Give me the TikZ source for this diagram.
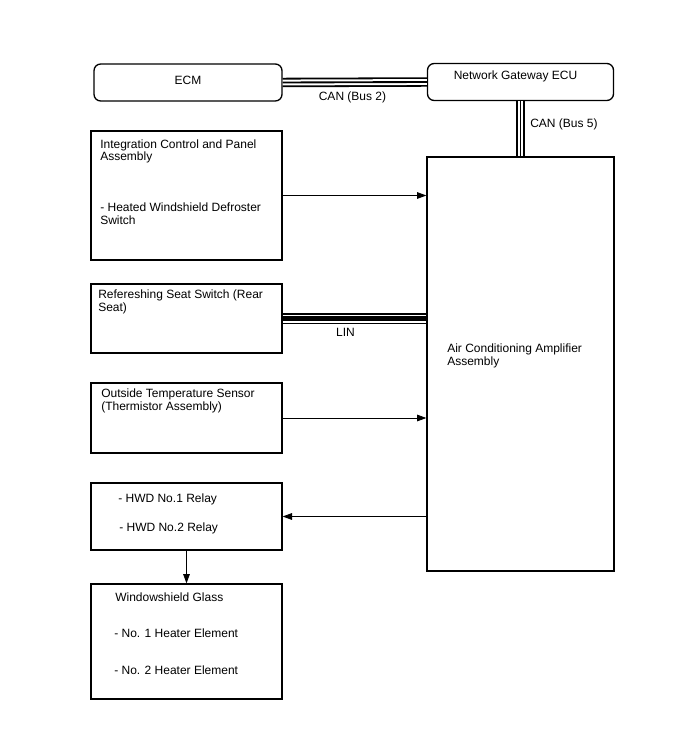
\documentclass[tikz,border=0pt]{standalone}
\usepackage{fontspec}
\setmainfont{Liberation Sans}
\usetikzlibrary{arrows.meta}

\begin{document}
\begin{tikzpicture}
[
    x=0.75pt, y=-0.75pt,
    every node/.style={font=\fontsize{9}{9.4}\selectfont},
    box/.style={draw, line width=1pt, minimum width=143.25pt, inner sep=0pt},
    ecu/.style={draw, line width=1pt, rounded corners=5pt, minimum height=27.75pt, inner sep=0pt},
    txt/.style={anchor=base west, align=left, inner sep=0pt},
    sig/.style={line width=0.6pt, -{Triangle[length=7pt,width=5pt]}},
    can/.style={line width=1.4pt, preaction={draw=black, line width=7.1pt}, preaction={draw=white, line width=4.4pt}},
    lin/.style={line width=3.45pt, preaction={draw=black, line width=7.9pt}, preaction={draw=white, line width=6pt}}
]
    \useasboundingbox (0,0) rectangle (688,755);

    \node [ecu, minimum width=141pt] (ecm) at (188,82.5) {};
    \node [ecu, minimum width=139.5pt] (gw) at (520.5,82) {};
    \node [box, minimum width=140.25pt, minimum height=310.5pt] (ac) at (520.5,364) {};
    \node [box, minimum height=96.75pt] (icp) at (186.5,195.5) {};
    \node [box, minimum height=51.75pt] (rss) at (186.5,318.5) {};
    \node [box, minimum height=52.5pt] (ots) at (186.5,418) {};
    \node [box, minimum height=50.25pt] (hwd) at (186.5,516.5) {};
    \node [box, minimum height=86.25pt] (wsg) at (186.5,641.5) {};

    % multi-line texts sit on the baseline of their last line
    \node [anchor=base, inner sep=0pt] (ecmtxt) at (188,85) {ECM};
    \node [anchor=base, inner sep=0pt] (gwtxt) at (515.5,80) {Network Gateway ECU};
    \node [anchor=base, inner sep=0pt] (can2) at (352.5,101) {CAN (Bus 2)};
    \node [txt] (can5) at (530,128) {CAN (Bus 5)};
    \node [txt] (actxt) at (447,365) {Air Conditioning Amplifier\\Assembly};
    \node [txt] (icptxt) at (100,161) {Integration Control and Panel\\Assembly};
    \node [txt] (hwsw) at (100,224.5) {- Heated Windshield Defroster\\Switch};
    \node [txt] (rsstxt) at (98,311.5) {Refereshing Seat Switch (Rear\\Seat)};
    \node [anchor=base, inner sep=0pt] (lin) at (345.5,336.5) {LIN};
    \node [txt] (otstxt) at (101,410.5) {Outside Temperature Sensor\\(Thermistor Assembly)};
    \node [txt] (relay1) at (118,502) {- HWD No.1 Relay};
    \node [txt] (relay2) at (119,531) {- HWD No.2 Relay};
    \node [txt] (wsgtxt) at (115,601) {Windowshield Glass};
    \node [txt] (heat1) at (114,637.5) {- No. 1 Heater Element};
    \node [txt] (heat2) at (114,674) {- No. 2 Heater Element};

    \draw [can] (ecm.east) -- (gw.west);
    \draw [can] (gw.south) -- (gw.south |- ac.north);
    \draw [lin] (rss.east) -- (rss.east -| ac.west);
    \draw [sig] (icp.east) -- (icp.east -| ac.west);
    \draw [sig] (ots.east) -- (ots.east -| ac.west);
    \draw [sig] (hwd.east -| ac.west) -- (hwd.east);
    \draw [sig] (hwd.south) -- (wsg.north);
\end{tikzpicture}
\end{document}
